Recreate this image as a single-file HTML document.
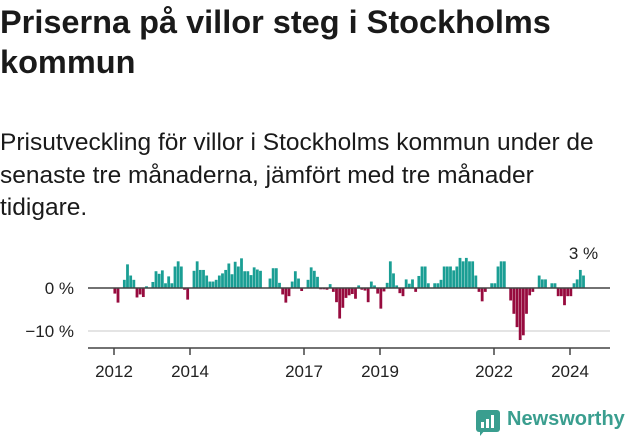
<!DOCTYPE html>
<html><head><meta charset="utf-8">
<style>
body{margin:0;width:631px;height:439px;background:#fff;font-family:"Liberation Sans",sans-serif;color:#1a1a1a;overflow:hidden;position:relative}
h1{position:absolute;left:0;top:2px;margin:0;font-size:32.5px;line-height:40px;font-weight:bold;white-space:nowrap}
p{position:absolute;left:0;top:127px;margin:0;font-size:24.5px;line-height:32.5px;white-space:nowrap}
svg{position:absolute;left:0;top:0}
</style></head><body>
<h1>Priserna på villor steg i Stockholms<br>kommun</h1>
<p>Prisutveckling för villor i Stockholms kommun under de<br>senaste tre månaderna, jämfört med tre månader<br>tidigare.</p>
<svg id="chart" width="631" height="439"></svg>
<div style="position:absolute;left:476px;top:408px;width:150px;height:30px">
<div style="position:absolute;left:0;top:2px;width:24px;height:22px;background:#3a9e8f;border-radius:3px"></div>
<div style="position:absolute;left:4px;top:22px;width:0;height:0;border-left:5px solid #3a9e8f;border-bottom:6px solid transparent"></div>
<div style="position:absolute;left:5px;top:14px;width:3px;height:6px;background:#fff"></div>
<div style="position:absolute;left:10px;top:11px;width:3px;height:9px;background:#fff"></div>
<div style="position:absolute;left:15px;top:7px;width:3px;height:13px;background:#fff"></div>
<span style="position:absolute;left:31px;top:0;font-size:20px;font-weight:bold;color:#3a9e8f">Newsworthy</span>
</div>
<script>
const startYear = 2011, startMonth = 11; // Dec 2011
const values = [-1.3,-3.4,0,1.9,5.5,2.9,1.9,-2.2,-1.5,-2.1,0.4,0,1.4,3.9,3.3,4.1,1.1,2.7,1.1,5,6.2,5,-0.4,-2.7,0,4,6.2,4.2,4.2,2.9,1.5,1.5,1.9,2.9,3.4,4.2,5.7,3.2,6.1,5,6.9,3.9,3.9,3,4.8,4.3,4,0,0,2.2,4.6,4.6,1.2,-1.5,-3.4,-1.9,1.5,3.9,2.2,-0.7,0,1.9,4.8,4,2.6,-0.3,-0.3,-0.4,0.9,-0.9,-3.3,-7.1,-4.6,-2.3,-1.7,-1.4,-2.5,0.6,-0.4,-0.6,-3.3,1.5,0.6,-1.3,-4.8,-0.8,1.2,6.2,3.4,0.6,-1.2,-1.9,2,1,2,-0.9,2.8,5,5,1.1,0,1.1,1.1,1.9,5,5,5,4.1,5,7,6.2,7,6.2,6.2,2.9,-0.9,-3.1,-0.9,0,1.1,1.1,5,6.2,6.2,0,-2.9,-6,-9.1,-12.1,-11,-6,-1.7,-0.9,0,2.9,2,2,0,1.1,1.1,-1.9,-1.9,-4,-1.9,-1.9,1.1,2,4.2,2.9];
const yTicks = [0,-10];
const yTickLabels = ["0 %","−10 %"];
const xTicks = [2012,2014,2017,2019,2022,2024];
const lastLabel = "3 %";
const NS="http://www.w3.org/2000/svg";
const svg=document.getElementById('chart');
const x=t=>114+(t-2012)*38;
const y=v=>288-v*4.3;
function mk(tag,attrs){const e=document.createElementNS(NS,tag);for(const k in attrs)e.setAttribute(k,attrs[k]);svg.appendChild(e);return e;}
const g=mk('line',{x1:88,x2:610,y1:y(-10),y2:y(-10),stroke:'#dcdcdc','stroke-width':1.5});


yTicks.forEach((v,i)=>{const t=mk('text',{x:74,y:y(v)+6,'text-anchor':'end','font-size':17,fill:'#222','font-family':'Liberation Sans, sans-serif'});t.textContent=yTickLabels[i];

});
values.forEach((v,i)=>{const t=startYear+(startMonth+i)/12;const cx=x(t)+4;
const r=mk('rect',{x:cx-1.4,width:2.8,y:Math.min(y(v),y(0)),height:Math.abs(y(v)-y(0)),fill:v>=0?'#1a9e94':'#970b3e'});

});
const z=mk('line',{x1:88,x2:610,y1:y(0),y2:y(0),stroke:'#444','stroke-width':1.5});


const ax=mk('line',{x1:88,x2:610,y1:348,y2:348,stroke:'#444','stroke-width':1.5});


xTicks.forEach(yr=>{const l=mk('line',{x1:x(yr),x2:x(yr),y1:348,y2:355,stroke:'#444','stroke-width':1.5});


const t=mk('text',{x:x(yr),y:377,'text-anchor':'middle','font-size':17,fill:'#222','font-family':'Liberation Sans, sans-serif'});t.textContent=yr;

});
const li=values.length-1;
const lt=mk('text',{x:x(startYear+(startMonth+li)/12)+4,y:259,'text-anchor':'middle','font-size':17,fill:'#222','font-family':'Liberation Sans, sans-serif'});lt.textContent=lastLabel;


</script>
</body></html>
